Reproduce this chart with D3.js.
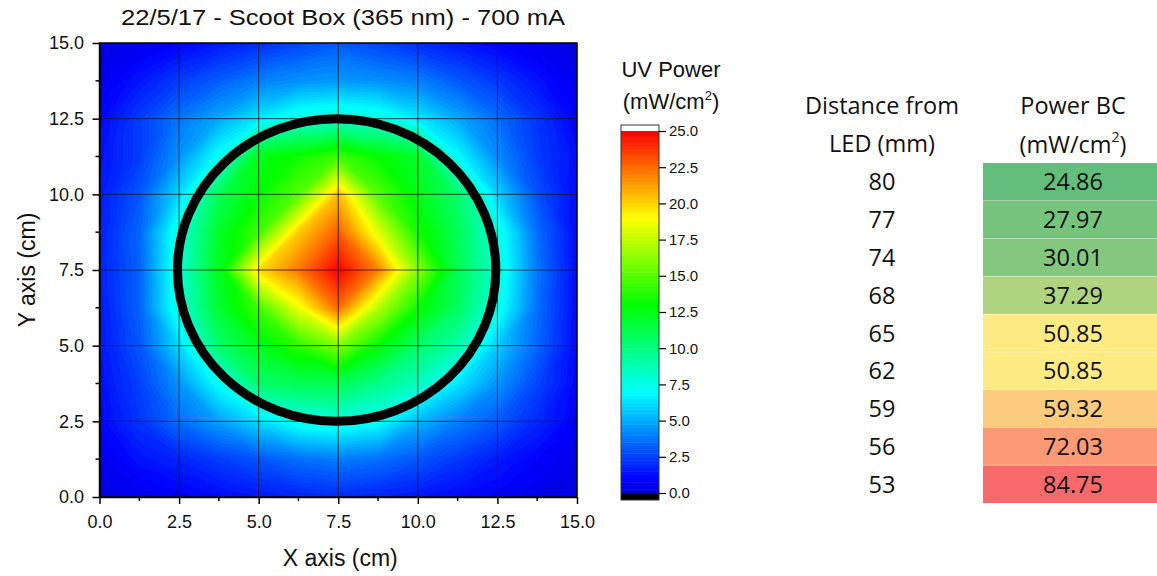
<!DOCTYPE html>
<html>
<head>
<meta charset="utf-8">
<script src="https://cdn.jsdelivr.net/npm/d3@7"></script>
<style>
  html, body { margin: 0; padding: 0; background: #fff; }
  svg { display: block; }
</style>
</head>
<body>
<svg id="chart" width="1157" height="576"></svg>
<script>
// ---- Measurement grid (cm), 1.25 cm pitch ----
const gridStep = 1.25;
const gridPositions = [0, 1.25, 2.5, 3.75, 5, 6.25, 7.5, 8.75, 10, 11.25, 12.5, 13.75, 15];

// UV power (mW/cm^2); first row is y = 15 (top), last row is y = 0 (bottom),
// columns run x = 0 .. 15.
const powerGrid = [
  [0.3, 0.6, 1.0, 1.5, 2.0, 2.6, 3.1, 2.6, 2.0, 1.5, 1.0, 0.6, 0.3],
  [0.6, 1.5, 2.4, 3.2, 4.0, 4.4, 4.6, 4.4, 4.0, 3.1, 2.3, 1.4, 0.6],
  [1.1, 2.4, 3.8, 5.0, 6.5, 7.8, 8.2, 7.8, 6.5, 5.0, 3.6, 2.2, 1.0],
  [1.4, 2.4, 4.5, 7.2, 12.5, 13.3, 14.5, 13.0, 12.0, 7.0, 4.3, 2.4, 1.3],
  [1.6, 3.0, 6.2, 11.0, 13.0, 15.0, 20.5, 15.0, 12.5, 10.5, 6.0, 2.9, 1.2],
  [1.7, 3.4, 7.8, 12.0, 14.5, 20.2, 22.8, 18.3, 13.5, 11.0, 7.7, 3.6, 1.2],
  [1.7, 3.3, 8.0, 12.3, 19.8, 22.2, 25.0, 22.0, 16.2, 11.1, 8.0, 3.8, 1.2],
  [1.6, 3.3, 7.8, 11.8, 14.5, 18.6, 22.5, 17.3, 13.2, 10.8, 7.6, 3.6, 1.2],
  [1.5, 3.0, 6.2, 10.5, 12.5, 14.0, 16.0, 13.0, 10.5, 9.0, 5.8, 3.4, 1.2],
  [1.3, 2.5, 4.5, 7.2, 10.5, 11.0, 11.1, 9.8, 8.5, 6.4, 4.5, 2.6, 1.1],
  [1.1, 2.2, 3.6, 4.8, 6.2, 7.5, 7.8, 7.2, 5.3, 4.0, 3.1, 1.9, 0.9],
  [0.6, 1.4, 1.8, 2.4, 3.0, 3.6, 3.9, 3.6, 3.0, 2.3, 1.6, 1.0, 0.5],
  [0.3, 0.6, 0.9, 1.2, 1.5, 1.8, 2.0, 1.8, 1.5, 1.2, 0.9, 0.5, 0.3]
];

// Sample area outline: circle centre and radius (cm)
const circleCentre = [7.45, 7.5];
const circleRadius = 5;

// Axis and colour bar ticks
const axisTicks = [0, 2.5, 5, 7.5, 10, 12.5, 15];
const minorTicks = [1.25, 3.75, 6.25, 8.75, 11.25, 13.75];
const barTicks = [0, 2.5, 5, 7.5, 10, 12.5, 15, 17.5, 20, 22.5, 25];

// Table: distance from LED vs measured power
const distanceMM = [80, 77, 74, 68, 65, 62, 59, 56, 53];
const powerBC = [24.86, 27.97, 30.01, 37.29, 50.85, 50.85, 59.32, 72.03, 84.75];

const svg = d3.select("#chart");
const ARIAL = "'Liberation Sans', Arial, sans-serif";
const TABLE_FONT = "'Open Sans', 'Noto Sans', sans-serif";

// ---- Scales ----
const x = d3.scaleLinear().domain([0, 15]).range([99.5, 577]);
const y = d3.scaleLinear().domain([0, 15]).range([497, 43]);

// Rainbow palette shared by the contour fill and the colour bar
const rainbow = d3.scaleLinear()
  .domain([0, 1, 7, 13, 19, 25])
  .range(["#0000d8", "#0000ff", "#00ffff", "#00ff00", "#ffff00", "#ff0000"])
  .clamp(true);

// Linear interpolation over triangles of the measurement grid; every cell is
// split along the diagonal that lies across the direction to the centre.
const nCells = gridPositions.length - 1;
function valueAt(col, rowFromBottom) {
  return powerGrid[powerGrid.length - 1 - rowFromBottom][col];
}
function powerAt(px, py) {
  const i = Math.min(Math.floor(px / gridStep), nCells - 1);
  const j = Math.min(Math.floor(py / gridStep), nCells - 1);
  const u = (px - gridPositions[i]) / gridStep;
  const v = (py - gridPositions[j]) / gridStep;
  const f00 = valueAt(i, j), f10 = valueAt(i + 1, j);
  const f01 = valueAt(i, j + 1), f11 = valueAt(i + 1, j + 1);
  const cx = gridPositions[i] + gridStep / 2, cy = gridPositions[j] + gridStep / 2;
  if ((cx - 7.5) * (cy - 7.5) > 0) {
    if (u + v <= 1) return f00 + u * (f10 - f00) + v * (f01 - f00);
    return f11 + (1 - u) * (f01 - f11) + (1 - v) * (f10 - f11);
  }
  if (u >= v) return f00 + (u - v) * (f10 - f00) + v * (f11 - f00);
  return f00 + (v - u) * (f01 - f00) + u * (f11 - f00);
}

// ---- Contour fill ----
const N = 300;
const field = new Float64Array(N * N);
for (let r = 0; r < N; r++) {
  const py = 15 - (r + 0.5) * 15 / N;
  for (let c = 0; c < N; c++) {
    field[r * N + c] = powerAt((c + 0.5) * 15 / N, py);
  }
}
const levelStep = 0.25;
const thresholds = d3.range(0, 25 + 1e-9, levelStep);
const contours = d3.contours().size([N, N]).thresholds(thresholds)(field);

const toPlot = d3.geoTransform({
  point(gx, gy) { this.stream.point(x(gx * 15 / N), y(15 - gy * 15 / N)); }
});
const path = d3.geoPath(toPlot);

svg.append("defs").append("clipPath").attr("id", "plotClip")
  .append("rect")
  .attr("x", x(0)).attr("y", y(15))
  .attr("width", x(15) - x(0)).attr("height", y(0) - y(15));

const plot = svg.append("g").attr("clip-path", "url(#plotClip)");
plot.append("rect")
  .attr("x", x(0)).attr("y", y(15))
  .attr("width", x(15) - x(0)).attr("height", y(0) - y(15))
  .attr("fill", rainbow(0));
plot.selectAll("path.band").data(contours).join("path")
  .attr("class", "band")
  .attr("d", path)
  .attr("fill", d => rainbow(d.value + levelStep / 2))
  .attr("stroke", d => rainbow(d.value + levelStep / 2))
  .attr("stroke-width", 0.4);

// Grid lines
const grid = svg.append("g").attr("stroke", "#1a1a1a").attr("stroke-width", 1).attr("stroke-opacity", 0.8);
grid.selectAll("line.gx").data(axisTicks.slice(1, -1)).join("line")
  .attr("x1", d => x(d)).attr("x2", d => x(d)).attr("y1", y(0)).attr("y2", y(15));
grid.selectAll("line.gy").data(axisTicks.slice(1, -1)).join("line")
  .attr("y1", d => y(d)).attr("y2", d => y(d)).attr("x1", x(0)).attr("x2", x(15));

// Sample area circle
svg.append("ellipse")
  .attr("cx", x(circleCentre[0])).attr("cy", y(circleCentre[1]))
  .attr("rx", x(circleRadius) - x(0)).attr("ry", y(0) - y(circleRadius))
  .attr("fill", "none").attr("stroke", "#000").attr("stroke-width", 9);

// Frame
svg.append("rect")
  .attr("x", x(0)).attr("y", y(15))
  .attr("width", x(15) - x(0)).attr("height", y(0) - y(15))
  .attr("fill", "none").attr("stroke", "#000").attr("stroke-width", 1.5);

// ---- Axes ----
const fmt = d3.format(".1f");
const xAxis = svg.append("g").attr("transform", `translate(0,${y(0)})`)
  .call(d3.axisBottom(x).tickValues(axisTicks).tickFormat(fmt).tickSize(7).tickSizeOuter(0));
const yAxis = svg.append("g").attr("transform", `translate(${x(0)},0)`)
  .call(d3.axisLeft(y).tickValues(axisTicks).tickFormat(fmt).tickSize(7).tickSizeOuter(0));
[xAxis, yAxis].forEach(g => {
  g.select(".domain").attr("stroke-width", 1.5);
  g.selectAll(".tick line").attr("stroke-width", 1.5);
  g.selectAll(".tick text").attr("font-size", 18).attr("fill", "#111").attr("font-family", ARIAL);
});
xAxis.selectAll(".tick text").attr("dy", "1.15em");
yAxis.selectAll(".tick text").attr("dx", "-0.3em");

svg.append("g").selectAll("line").data(minorTicks).join("line")
  .attr("x1", d => x(d)).attr("x2", d => x(d)).attr("y1", y(0)).attr("y2", y(0) + 4)
  .attr("stroke", "#000").attr("stroke-width", 1.5);
svg.append("g").selectAll("line").data(minorTicks).join("line")
  .attr("y1", d => y(d)).attr("y2", d => y(d)).attr("x1", x(0)).attr("x2", x(0) - 4)
  .attr("stroke", "#000").attr("stroke-width", 1.5);

svg.append("text")
  .attr("x", 343).attr("y", 25)
  .attr("text-anchor", "middle").attr("font-family", ARIAL).attr("font-size", 22).attr("fill", "#111")
  .attr("textLength", 444).attr("lengthAdjust", "spacingAndGlyphs")
  .text("22/5/17 - Scoot Box (365 nm) - 700 mA");
svg.append("text")
  .attr("x", (x(0) + x(15)) / 2 + 2).attr("y", 566)
  .attr("text-anchor", "middle").attr("font-family", ARIAL).attr("font-size", 23).attr("fill", "#111")
  .text("X axis (cm)");
svg.append("text")
  .attr("transform", `translate(35,${(y(0) + y(15)) / 2}) rotate(-90)`)
  .attr("text-anchor", "middle").attr("font-family", ARIAL).attr("font-size", 23).attr("fill", "#111")
  .text("Y axis (cm)");

// ---- Colour bar ----
const bar = { x0: 621, x1: 659 };
const yBar = d3.scaleLinear().domain([0, 25]).range([493, 131]);
const barG = svg.append("g");
barG.selectAll("rect.lvl").data(thresholds.slice(0, -1)).join("rect")
  .attr("x", bar.x0).attr("width", bar.x1 - bar.x0)
  .attr("y", d => yBar(d + levelStep)).attr("height", d => yBar(d) - yBar(d + levelStep) + 0.5)
  .attr("fill", d => rainbow(d + levelStep / 2));
barG.append("rect").attr("x", bar.x0).attr("width", bar.x1 - bar.x0)
  .attr("y", 125).attr("height", yBar(25) - 125).attr("fill", "#fff");
barG.append("rect").attr("x", bar.x0).attr("width", bar.x1 - bar.x0)
  .attr("y", yBar(0)).attr("height", 7).attr("fill", "#000");
barG.append("rect").attr("x", bar.x0).attr("width", bar.x1 - bar.x0)
  .attr("y", 125).attr("height", yBar(0) + 7 - 125)
  .attr("fill", "none").attr("stroke", "#333").attr("stroke-width", 1);
const barAxis = svg.append("g").attr("transform", `translate(${bar.x1},0)`)
  .call(d3.axisRight(yBar).tickValues(barTicks).tickFormat(fmt).tickSize(7).tickSizeOuter(0));
barAxis.select(".domain").remove();
barAxis.selectAll(".tick line").attr("stroke-width", 1.2);
barAxis.selectAll(".tick text").attr("font-size", 15).attr("fill", "#111").attr("font-family", ARIAL);

const barTitle = svg.append("text").attr("font-family", ARIAL)
  .attr("text-anchor", "middle").attr("font-size", 22).attr("fill", "#111");
barTitle.append("tspan").attr("x", 671).attr("y", 77).text("UV Power");
const bt2 = barTitle.append("tspan").attr("x", 671).attr("y", 109);
bt2.append("tspan").text("(mW/cm");
bt2.append("tspan").attr("font-size", 13).attr("dy", -9).text("2");
bt2.append("tspan").attr("dy", 9).text(")");

// ---- Table ----
const rowBand = d3.scaleBand().domain(d3.range(distanceMM.length)).range([163, 503]);
const cellColour = d3.scaleLinear()
  .domain([d3.min(powerBC), d3.median(powerBC), d3.max(powerBC)])
  .range(["#63BE7B", "#FFEB84", "#F8696B"]);
const colA = 882, colB = 1073, cellX0 = 983, cellX1 = 1157;

const tbl = svg.append("g").attr("font-family", TABLE_FONT).attr("fill", "#111");
tbl.selectAll("rect.cell").data(powerBC).join("rect")
  .attr("x", cellX0).attr("width", cellX1 - cellX0)
  .attr("y", (d, i) => rowBand(i)).attr("height", rowBand.bandwidth())
  .attr("fill", d => cellColour(d));
tbl.selectAll("line.sep").data(d3.range(1, powerBC.length)).join("line")
  .attr("x1", cellX0).attr("x2", cellX1)
  .attr("y1", i => rowBand(i)).attr("y2", i => rowBand(i))
  .attr("stroke", "#fff").attr("stroke-opacity", 0.3).attr("stroke-width", 1);
tbl.selectAll("text.dist").data(distanceMM).join("text")
  .attr("x", colA).attr("y", (d, i) => rowBand(i) + rowBand.bandwidth() / 2 + 8.5)
  .attr("text-anchor", "middle").attr("font-size", 23.5).text(d => d);
tbl.selectAll("text.pw").data(powerBC).join("text")
  .attr("x", colB).attr("y", (d, i) => rowBand(i) + rowBand.bandwidth() / 2 + 8.5)
  .attr("text-anchor", "middle").attr("font-size", 23.5).text(d => d.toFixed(2));

tbl.append("text").attr("x", colA).attr("y", 114).attr("text-anchor", "middle")
  .attr("font-size", 23.5).text("Distance from");
tbl.append("text").attr("x", colA).attr("y", 152).attr("text-anchor", "middle")
  .attr("font-size", 23.5).text("LED (mm)");
tbl.append("text").attr("x", colB).attr("y", 114).attr("text-anchor", "middle")
  .attr("font-size", 23.5).text("Power BC");
const h2 = tbl.append("text").attr("x", colB).attr("y", 153).attr("text-anchor", "middle")
  .attr("font-size", 23.5);
h2.append("tspan").text("(mW/cm");
h2.append("tspan").attr("font-size", 14).attr("dy", -11).text("2");
h2.append("tspan").attr("dy", 11).text(")");
</script>
</body>
</html>
